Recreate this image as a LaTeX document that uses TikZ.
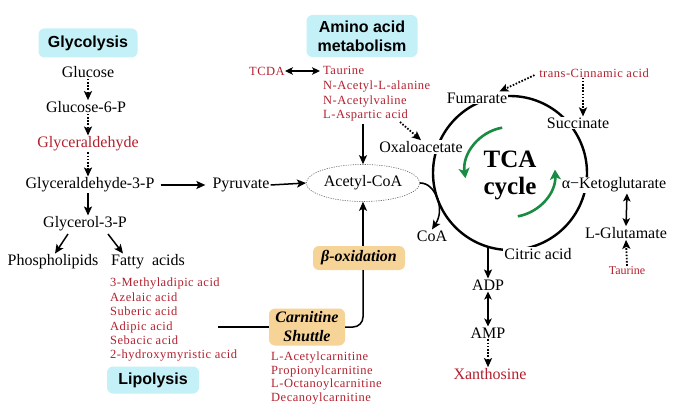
\documentclass[tikz,border=0pt]{standalone}
\usepackage{fontspec}
\setmainfont{Liberation Serif}
\setsansfont{Liberation Sans}
\newfontfamily\redfont[LetterSpace=4]{Liberation Serif}
\usetikzlibrary{arrows.meta,shapes.geometric}
\definecolor{redc}{RGB}{178,32,45}
\definecolor{cyanc}{RGB}{196,240,247}
\definecolor{orangec}{RGB}{246,211,150}
\definecolor{greenc}{RGB}{25,140,65}
\begin{document}
\begin{tikzpicture}[x=1pt,y=-1pt,
 lbl/.style={font=\fontsize{16}{18}\selectfont, inner sep=1pt},
 wl/.style={lbl, fill=white},
 rl/.style={font=\redfont\fontsize{12.5}{14.5}\selectfont, text=redc, align=left, inner sep=0pt},
 hbox/.style={fill=cyanc, rounded corners=6pt, font=\sffamily\bfseries\fontsize{16}{19}\selectfont, align=center, inner sep=0pt},
 obox/.style={fill=orangec, rounded corners=6pt, font=\bfseries\itshape\fontsize{16}{19}\selectfont, align=center, inner sep=0pt},
 tip/.style={Stealth[length=9pt,width=8pt,inset=2pt]},
 arr/.style={line width=1.5pt, -{Stealth[length=9pt,width=8pt,inset=2pt]}},
 darr/.style={line width=1.5pt, {Stealth[length=8pt,width=7.5pt,inset=2pt]}-{Stealth[length=8pt,width=7.5pt,inset=2pt]}},
 dotarr/.style={line width=1.8pt, dash pattern=on 1.6pt off 1.6pt, -{Stealth[length=9pt,width=8pt,inset=2pt]}},
 garr/.style={line width=2.6pt, greenc, -{Stealth[length=10pt,width=11pt,inset=2.5pt]}},
]
\useasboundingbox (0,0) rectangle (698,417);

% ---------- Glycolysis ----------
\node[hbox, minimum width=99pt, minimum height=29pt] (glyc) at (88,43) {Glycolysis};
\node[lbl] (glu) at (88,72) {Glucose};
\node[lbl] (g6p) at (86,107) {Glucose-6-P};
\node[lbl, text=redc] (gald) at (88,144) {Glyceraldehyde};
\node[lbl] (g3p) at (90,185) {Glyceraldehyde-3-P};
\node[lbl] (pyr) at (241,185) {Pyruvate};
\node[lbl] (gol) at (85,224) {Glycerol-3-P};
\node[lbl] (phos) at (53,262) {Phospholipids};
\node[lbl] (fatty) at (148,262) {Fatty\ \ acids};

\draw[dotarr] (glu.south) -- (glu.south |- g6p.north);
\draw[dotarr] (glu.south |- g6p.south) -- (glu.south |- gald.north);
\draw[dotarr] (glu.south |- gald.south) -- (glu.south |- g3p.north);
\draw[arr] (glu.south |- g3p.south) -- (glu.south |- gol.north);
\draw[arr, shorten <=5pt, shorten >=6pt] (g3p.east) -- (pyr.west);
\coordinate (gl1) at (68,234);
\coordinate (gl2) at (108,234);
\draw[arr] (gl1) -- ([xshift=2pt]phos.north);
\draw[arr] (gl2) -- ([xshift=-25pt]fatty.north);

% ---------- Lipolysis ----------
\node[rl, anchor=west, font=\redfont\fontsize{12.5}{14.4}\selectfont] (falist) at (110,320)
 {3-Methyladipic acid\\Azelaic acid\\Suberic acid\\Adipic acid\\Sebacic acid\\2-hydroxymyristic acid};
\node[hbox, minimum width=92pt, minimum height=27pt] (lipo) at (153,380) {Lipolysis};
\node[obox, minimum width=76pt, minimum height=37pt] (carn) at (307,327) {Carnitine\\Shuttle};
\node[obox, minimum width=92pt, minimum height=24pt] (box) at (359,258) {β-oxidation};
\node[rl, anchor=west, font=\redfont\fontsize{12.5}{13.4}\selectfont] (carlist) at (271,378)
 {L-Acetylcarnitine\\Propionylcarnitine\\L-Octanoylcarnitine\\Decanoylcarnitine};
\coordinate (fa) at (218,327);
\draw[line width=1.5pt] (fa) -- (carn.west);

% ---------- Acetyl-CoA ----------
\node[lbl, ellipse, draw=black!60, line width=0.6pt, dash pattern=on 1.2pt off 1.2pt,
 minimum width=97pt, minimum height=37pt] (acoa) at (363,183) {Acetyl-CoA};
\draw[arr] (pyr.east) -- (acoa.west);
\draw[arr] (acoa.south |- box.north) -- (acoa.south);
\draw[line width=1.5pt, rounded corners=10pt] (carn.east) -| (acoa.south |- box.south);

% ---------- Amino acid metabolism ----------
\node[hbox, minimum width=111pt, minimum height=42pt] (amino) at (362,36) {Amino acid\\metabolism};
\node[rl] (tcda) at (267,71) {TCDA};
\node[rl, anchor=west, font=\redfont\fontsize{12.5}{14.6}\selectfont] (aalist) at (323,94)
 {Taurine\\N-Acetyl-L-alanine\\N-Acetylvaline\\L-Aspartic acid};
\coordinate (taur) at (320,71);
\draw[darr] (tcda.east) -- (taur);
\coordinate (aspd) at (363,124);
\draw[arr] (aspd) -- (acoa.north);

% ---------- TCA cycle ----------
\draw[line width=2.4pt] (510,173) circle[radius=77];
\coordinate (j1) at (438,200);
\coordinate (j2) at (437,197);
\draw[line width=1.6pt] (acoa.east) .. controls (428,183) and (434,189) .. (j1);
\node[wl] (fum) at (477,98) {Fumarate};
\node[wl] (oxa) at (421,147) {Oxaloacetate};
\node[wl] (suc) at (578,123) {Succinate};
\node[wl] (akg) at (614,185) {α−Ketoglutarate};
\node[wl] (cit) at (538,254) {Citric acid};
\node[lbl] (coa) at (432,236) {CoA};
\node[lbl] (adp) at (488,285) {ADP};
\node[lbl] (amp) at (488,333) {AMP};
\node[lbl, text=redc] (xan) at (490,374) {Xanthosine};
\node[lbl] (glut) at (626,233) {L-Glutamate};
\node[font=\fontsize{12}{14}\selectfont, text=redc, inner sep=1pt] (taur2) at (627,271) {Taurine};
\node[rl] (cinn) at (594,73) {trans-Cinnamic acid};
\node[font=\bfseries\fontsize{25}{27}\selectfont, align=center] (tca) at (510,175) {TCA\\cycle};

\coordinate (asp) at (400,122);
\draw[dotarr] (asp) -- (oxa.north);
\draw[arr] (j2) .. controls (441,208) and (440,217) .. (coa.north);
\draw[dotarr, shorten <=5pt] (cinn.west) -- ([xshift=-9pt]fum.north east);
\draw[dotarr] ([xshift=-11pt]cinn.south) -- ([xshift=5pt]suc.north);
\draw[darr] ([xshift=13pt]akg.south) -- (glut.north);
\draw[dotarr] (taur2.north) -- (glut.south);
\coordinate (cb) at (488,246);
\draw[arr] (cb) -- (adp.north);
\draw[darr] (adp.south) -- (amp.north);
\draw[dotarr] (amp.south) -- (amp.south |- xan.north);

\draw[garr] ([shift={(-100:45)}]510,172) arc[start angle=-100, end angle=-188, radius=45];
\draw[garr] ([shift={(80:45)}]510,172) arc[start angle=80, end angle=-3, radius=45];
\end{tikzpicture}
\end{document}
